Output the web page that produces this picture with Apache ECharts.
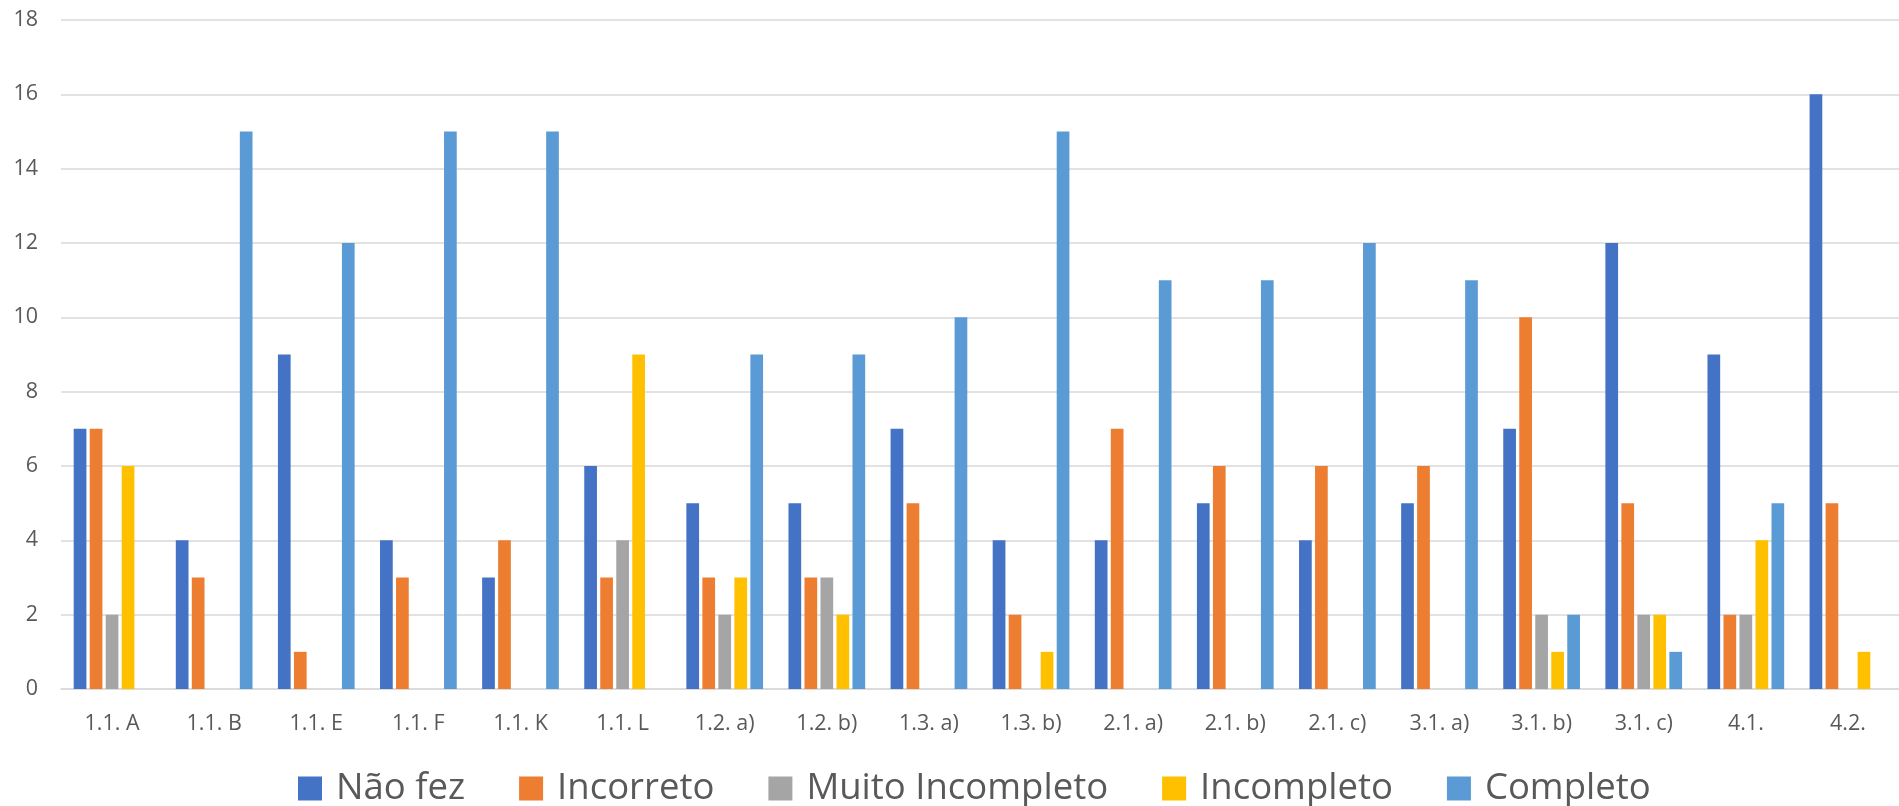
<!DOCTYPE html>
<html>
<head>
<meta charset="utf-8">
<script src="https://cdn.jsdelivr.net/npm/echarts@6/dist/echarts.min.js"></script>
<style>
  html, body { margin: 0; padding: 0; background: #fff; }
  #chart { width: 1899px; height: 806px; }
</style>
</head>
<body>
<div id="chart"></div>
<script>
// Questions answered, grouped by result
const categories = ['1.1. A', '1.1. B', '1.1. E', '1.1. F', '1.1. K', '1.1. L', '1.2. a)', '1.2. b)', '1.3. a)',
  '1.3. b)', '2.1. a)', '2.1. b)', '2.1. c)', '3.1. a)', '3.1. b)', '3.1. c)', '4.1.', '4.2.'];

const naoFez           = [7, 4, 9, 4, 3, 6, 5, 5, 7, 4, 4, 5, 4, 5, 7, 12, 9, 16];
const incorreto        = [7, 3, 1, 3, 4, 3, 3, 3, 5, 2, 7, 6, 6, 6, 10, 5, 2, 5];
const muitoIncompleto  = [2, 0, 0, 0, 0, 4, 2, 3, 0, 0, 0, 0, 0, 0, 2, 2, 2, 0];
const incompleto       = [6, 0, 0, 0, 0, 9, 3, 2, 0, 1, 0, 0, 0, 0, 1, 2, 4, 1];
const completo         = [0, 15, 12, 15, 15, 0, 9, 9, 10, 15, 11, 11, 12, 11, 2, 1, 5, 0];

const yTicks = { min: 0, max: 18, interval: 2 };

const seriesDefs = [
  { name: 'Não fez', data: naoFez, color: '#4472C4' },
  { name: 'Incorreto', data: incorreto, color: '#ED7D31' },
  { name: 'Muito Incompleto', data: muitoIncompleto, color: '#A5A5A5' },
  { name: 'Incompleto', data: incompleto, color: '#FFC000' },
  { name: 'Completo', data: completo, color: '#5B9BD5' }
];

const font = '"Open Sans", "Noto Sans", sans-serif';
const chart = echarts.init(document.getElementById('chart'), null, { renderer: 'canvas' });

chart.setOption({
  animation: false,
  textStyle: { fontFamily: font },
  grid: { left: 61, right: -12, top: 20, bottom: 117, containLabel: false },
  legend: {
    bottom: -6,
    left: 293,
    itemWidth: 24,
    itemHeight: 24,
    itemGap: 54,
    icon: 'rect',
    textStyle: { fontSize: 36.5, color: '#595959', fontFamily: font, padding: [0, 0, 0, 9] },
    data: seriesDefs.map(s => s.name)
  },
  xAxis: {
    type: 'category',
    data: categories,
    axisLine: { lineStyle: { color: '#d9d9d9', width: 1.5 } },
    axisTick: { show: false },
    axisLabel: { interval: 0, fontSize: 21.5, color: '#595959', margin: 24, fontFamily: font }
  },
  yAxis: {
    type: 'value',
    min: yTicks.min,
    max: yTicks.max,
    interval: yTicks.interval,
    axisLine: { show: false },
    axisTick: { show: false },
    splitLine: { lineStyle: { color: '#d9d9d9', width: 1.5 } },
    axisLabel: { fontSize: 21.5, color: '#595959', margin: 23, fontFamily: font }
  },
  series: seriesDefs.map(s => ({
    name: s.name,
    type: 'bar',
    data: s.data,
    barWidth: 12.7,
    barGap: '26%',
    itemStyle: { color: s.color }
  }))
});
</script>
</body>
</html>
